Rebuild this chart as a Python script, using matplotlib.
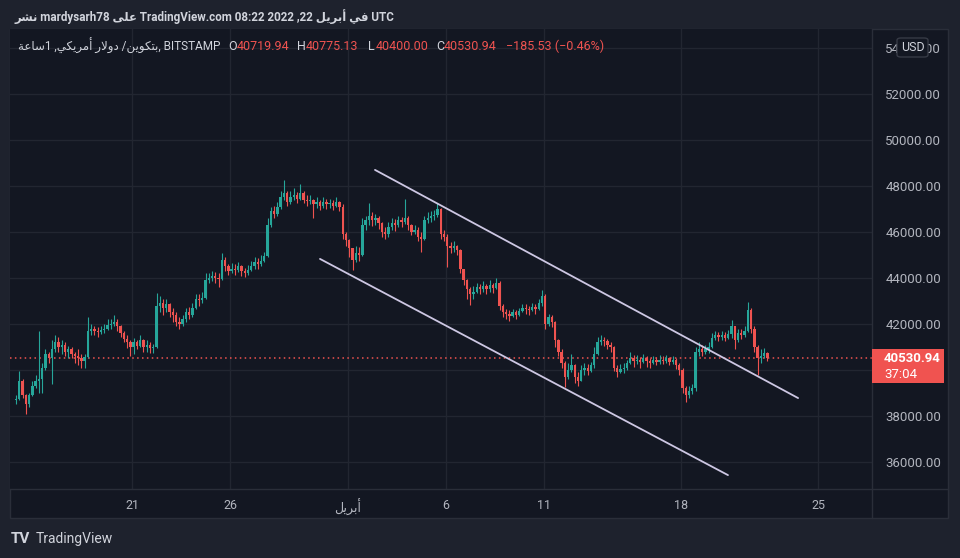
"""
BTC/USD (Bitstamp) candles with a falling channel, TradingView dark style.
"""
import numpy as np
import pandas as pd
import matplotlib
matplotlib.use('Agg')
import matplotlib.pyplot as plt
import matplotlib.dates as mdates
from matplotlib.patches import Rectangle, FancyBboxPatch
from matplotlib.lines import Line2D

# Roboto for latin text, DejaVu Sans picks up the arabic glyphs
plt.rcParams['font.family'] = ['Roboto', 'DejaVu Sans']

# arabic words in shaped (presentation) form, visual left-to-right order
NASHR = '\uFEAE\uFEB8\uFEE7'
ALA = '\uFEF0\uFEE0\uFECB'
FI = '\uFEF2\uFED3'
APRIL = '\uFEDE\uFEF3\uFEAE\uFE91\uFE83'
SAA = '\uFE94\uFECB\uFE8E\uFEB3'
AMRIKI = '\uFEF2\uFEDC\uFEF3\uFEAE\uFEE3\uFE83'
DOLAR = '\uFEAD\uFEFB\uFEED\uFEA9'
BITCOIN = '\uFEE6\uFEF3\uFEEE\uFEDC\uFE98\uFE91'

# ---- data: 4h candles from 2022-03-15 00:00 UTC (6 per day) ----
first_open = 38700
closes = [
    38750, 39500, 38900, 38500, 38900, 39300,   # Mar 15
    39500, 39600, 40100, 40700, 40500, 40900,   # Mar 16
    41200, 41000, 41100, 40800, 40900, 40700,   # Mar 17
    40600, 40500, 40400, 40550, 41700, 41800,   # Mar 18
    41700, 41650, 41750, 41800, 41950, 42000,   # Mar 19
    42100, 41900, 41600, 41350, 41200, 41000,   # Mar 20
    41200, 41050, 41300, 41000, 41100, 40950,   # Mar 21
    41000, 42800, 42900, 42700, 42850, 42500,   # Mar 22
    42400, 42100, 42000, 42200, 42500, 42400,   # Mar 23
    42700, 43100, 43050, 43150, 43900, 44000,   # Mar 24
    44100, 44000, 43950, 44800, 44500, 44300,   # Mar 25
    44400, 44350, 44500, 44300, 44200, 44350,   # Mar 26
    44500, 44700, 44600, 44750, 44950, 46300,   # Mar 27
    46900, 46800, 47100, 47500, 47700, 47300,   # Mar 28
    47500, 47600, 47450, 47700, 47400, 47350,   # Mar 29
    47400, 47200, 47300, 47150, 47300, 47200,   # Mar 30
    47250, 47150, 47300, 47100, 45900, 45650,   # Mar 31
    45300, 44800, 45100, 45000, 46300, 46500,   # Apr 1
    46700, 46500, 46600, 46400, 46000, 45900,   # Apr 2
    46200, 46400, 46300, 46500, 46450, 46600,   # Apr 3
    46300, 46000, 46100, 45800, 45700, 46500,   # Apr 4
    46600, 46700, 46750, 47000, 45900, 45800,   # Apr 5
    45400, 45300, 45400, 45200, 44400, 43900,   # Apr 6
    43500, 43300, 43400, 43600, 43500, 43650,   # Apr 7
    43500, 43700, 43550, 43800, 42800, 42500,   # Apr 8
    42450, 42350, 42500, 42400, 42550, 42700,   # Apr 9
    42650, 42600, 42750, 42650, 42900, 43200,   # Apr 10
    42000, 42300, 42100, 41300, 40800, 40300,   # Apr 11
    39700, 40000, 40200, 39700, 39500, 40000,   # Apr 12
    40100, 39950, 40200, 40700, 41200, 41300,   # Apr 13
    41250, 41100, 41000, 40100, 39900, 40050,   # Apr 14
    40100, 40300, 40500, 40400, 40450, 40350,   # Apr 15
    40500, 40400, 40300, 40450, 40350, 40450,   # Apr 16
    40400, 40500, 40350, 40450, 40200, 40000,   # Apr 17
    39200, 38900, 39100, 39200, 40800, 40900,   # Apr 18
    40800, 40900, 41000, 41400, 41500, 41450,   # Apr 19
    41500, 41400, 41550, 41900, 41300, 41600,   # Apr 20
    41500, 41700, 42600, 41800, 41000, 40500,   # Apr 21
    40600, 40719.94, 40530.94,                  # Apr 22
]
highs = [
    38900, 39950, 39600, 38950, 39000, 39500,
    39800, 41700, 40300, 40900, 40800, 41300,
    41500, 41450, 41300, 41200, 41050, 41000,
    40800, 40900, 40700, 40700, 42300, 42000,
    41900, 41850, 41900, 42000, 42200, 42200,
    42400, 42200, 41950, 41700, 41500, 41300,
    41400, 41300, 41500, 41350, 41300, 41200,
    41150, 43350, 43200, 43100, 43100, 42900,
    42700, 42500, 42300, 42400, 42700, 42750,
    42900, 43300, 43300, 43400, 44200, 44200,
    44300, 44250, 44200, 45100, 44900, 44600,
    44650, 44600, 44700, 44550, 44450, 44550,
    44750, 44900, 44850, 45000, 45150, 46600,
    47100, 47150, 47300, 47800, 48250, 47800,
    47800, 47900, 47750, 48100, 47800, 47600,
    47600, 47450, 47500, 47400, 47500, 47450,
    47450, 47400, 47500, 47350, 47200, 46000,
    45700, 45300, 45400, 45350, 46600, 46700,
    47250, 46850, 46800, 46700, 46450, 46200,
    46450, 46600, 46550, 46700, 46650, 47450,
    46700, 46350, 46300, 46200, 46000, 46700,
    46850, 46900, 46950, 47250, 47050, 46100,
    45900, 45550, 45600, 45450, 45250, 44400,
    43950, 43600, 43650, 43800, 43750, 43850,
    43750, 43900, 43800, 44000, 43850, 42850,
    42650, 42600, 42650, 42600, 42700, 42850,
    42850, 42800, 42900, 42850, 43100, 43480,
    43300, 42450, 42400, 42150, 41350, 40900,
    40400, 40300, 40700, 40250, 39900, 40200,
    40300, 40250, 40350, 41000, 41450, 41500,
    41450, 41350, 41200, 41050, 40200, 40250,
    40300, 40450, 40800, 40650, 40650, 40550,
    40700, 40600, 40500, 40600, 40550, 40650,
    40600, 40650, 40550, 40600, 40500, 40300,
    40100, 39300, 39300, 39400, 41000, 41200,
    41100, 41100, 41200, 41600, 41700, 41650,
    41700, 41650, 41750, 42170, 41900, 41800,
    41800, 41900, 42960, 42700, 41900, 41100,
    40900, 40950, 40775.13,
]
lows = [
    38500, 38700, 38800, 38100, 38400, 38850,
    39200, 39000, 39000, 40000, 40300, 39400,
    40800, 40800, 40700, 40600, 40500, 40500,
    40300, 40200, 40100, 40100, 40500, 41500,
    41500, 41450, 41550, 41600, 41750, 41800,
    41900, 41700, 41450, 41200, 40950, 40600,
    40700, 40900, 41000, 40800, 40800, 40750,
    40750, 40950, 42500, 42400, 42500, 42300,
    42100, 41900, 41800, 41900, 42100, 42200,
    42300, 42650, 42800, 42900, 43100, 43800,
    43850, 43800, 43600, 43900, 44300, 44150,
    44200, 44150, 44250, 44100, 44050, 44150,
    44300, 44400, 44400, 44500, 44700, 44900,
    46200, 46600, 46700, 47000, 47400, 47150,
    47200, 47400, 47250, 47400, 47250, 47150,
    47200, 46600, 47050, 46950, 47050, 47000,
    47050, 46950, 47100, 46900, 45700, 45400,
    44900, 44350, 44700, 44750, 44950, 46100,
    46300, 46250, 46300, 46150, 45800, 45700,
    45800, 46100, 46050, 46200, 46200, 46350,
    46100, 45850, 45900, 45600, 45150, 45650,
    46400, 46450, 46500, 46650, 45700, 45600,
    44480, 45100, 45150, 45000, 44200, 43700,
    43100, 42830, 43100, 43350, 43300, 43400,
    43300, 43400, 43350, 43500, 42600, 42300,
    42200, 42150, 42300, 42200, 42350, 42500,
    42450, 42400, 42550, 42450, 42600, 42800,
    41800, 41900, 41850, 41000, 40600, 40100,
    39260, 39600, 39900, 39450, 39300, 39500,
    39800, 39800, 39900, 40100, 40650, 41100,
    41050, 40900, 40800, 39950, 39700, 39850,
    39850, 40000, 40250, 40150, 40250, 40100,
    40300, 40150, 40100, 40250, 40200, 40250,
    40250, 40300, 40200, 40250, 40050, 39800,
    39000, 38600, 38800, 38950, 39100, 40600,
    40600, 40700, 40750, 40950, 41300, 41250,
    41300, 41250, 41350, 41400, 40900, 41200,
    41350, 41450, 41650, 41600, 40800, 39780,
    40300, 40500, 40400.00,
]
start_time = '2022-03-15 00:00'

# channel drawn on the chart: (time, price) endpoints
upper_line = [('2022-04-02 09:30', 48700), ('2022-04-23 23:30', 38780)]
lower_line = [('2022-03-30 14:10', 44830), ('2022-04-20 09:40', 35430)]

last_price = 40530.94
countdown = '37:04'
price_ticks = [36000, 38000, 40000, 42000, 44000, 46000, 48000, 50000, 52000, 54000]
time_ticks = ['2022-03-21', '2022-03-26', '2022-04-01', '2022-04-06',
              '2022-04-11', '2022-04-18', '2022-04-25']
time_labels = ['21', '26', APRIL, '6', '11', '18', '25']

# ---- colours ----
UP = '#26a69a'
DOWN = '#ef5350'
BG_OUT = '#1e222d'
BG = '#131722'
GRID = '#222631'
BORDER = '#2a2e39'
TXT = '#d1d4dc'
TICK = '#b2b5be'

W, H = 960, 558


def fx(px):
    return px / W


def fy(py):
    return 1 - py / H


fig = plt.figure(figsize=(9.6, 5.58), dpi=100, facecolor=BG_OUT)

# chart pane (behind the axes)
fig.patches.append(Rectangle((fx(10), fy(518)), (948 - 10) / W, (518 - 29) / H,
                             transform=fig.transFigure, facecolor=BG,
                             edgecolor=BORDER, lw=1, zorder=-5))

ax = fig.add_axes([fx(10), fy(489), (872 - 10) / W, (489 - 29) / H])
ax.set_facecolor(BG)

closes = np.array(closes, dtype=float)
highs = np.array(highs, dtype=float)
lows = np.array(lows, dtype=float)
opens = np.concatenate([[first_open], closes[:-1]])
times = pd.date_range(start_time, periods=len(closes), freq='4h')
t = mdates.date2num(times.to_pydatetime()) + 2.0 / 24

up = closes >= opens
cols = np.where(up, UP, DOWN)
ax.vlines(t, lows, highs, colors=cols, lw=0.8, zorder=3)
body = np.maximum(np.abs(closes - opens), 25)
ax.bar(t, body, bottom=np.minimum(opens, closes), width=0.12,
       color=cols, linewidth=0, zorder=4)

# channel
for line in (upper_line, lower_line):
    xs = mdates.date2num([pd.Timestamp(p[0]).to_pydatetime() for p in line])
    ys = [p[1] for p in line]
    ax.plot(xs, ys, color='#cdc7e3', lw=1.3, solid_capstyle='round', zorder=5)

# last price dotted line
ax.axhline(last_price, color=DOWN, ls=(0, (1, 2.2)), lw=1.1, zorder=2)

t0 = mdates.date2num(pd.Timestamp(start_time).to_pydatetime())
ax.set_xlim(t0 - 0.224, t0 + 43.75)
ax.set_ylim(34826, 54826)

ax.set_xticks(mdates.date2num([pd.Timestamp(d).to_pydatetime() for d in time_ticks]))
ax.set_xticklabels(time_labels)
ax.set_yticks(price_ticks)
# the 40000 label sits under the last price badge in the reference
ax.set_yticklabels(['' if v == 40000 else '%.2f' % v for v in price_ticks])
ax.yaxis.tick_right()
ax.tick_params(axis='y', length=0, pad=9.5, colors=TICK, labelsize=9.5)
ax.tick_params(axis='x', length=0, pad=7, colors=TICK, labelsize=9)
ax.grid(True, color=GRID, lw=1)
ax.set_axisbelow(True)
for s in ax.spines.values():
    s.set_visible(False)

# pane dividers
fig.add_artist(Line2D([fx(872), fx(872)], [fy(29), fy(518)], color=BORDER, lw=1))
fig.add_artist(Line2D([fx(10), fx(948)], [fy(489), fy(489)], color=BORDER, lw=1))

# USD badge over the top price label
fig.patches.append(FancyBboxPatch((fx(897), fy(57)), 31 / W, 19 / H,
                                  boxstyle='round,pad=0,rounding_size=0.004',
                                  transform=fig.transFigure, facecolor=BG,
                                  edgecolor='#363a45', lw=1, zorder=6))
fig.text(fx(912.5), fy(47.5), 'USD', color=TXT, fontsize=9, ha='center',
         va='center', zorder=7)

# last price label
fig.patches.append(Rectangle((fx(872), fy(383)), 72 / W, 34 / H,
                             transform=fig.transFigure, facecolor='#f05350',
                             edgecolor='none', zorder=6))
fig.text(fx(884), fy(358), '%.2f' % last_price, color='white', fontsize=9.5,
         fontweight='bold', ha='left', va='center', zorder=7)
fig.text(fx(884), fy(374), countdown, color='white', fontsize=9.5,
         ha='left', va='center', zorder=7)

# header line
header = (NASHR + ' mardysarh78 ' + ALA + ' TradingView.com 08:22 2022 ,22 '
          + APRIL + ' ' + FI + ' UTC')
fig.text(fx(15), fy(17), header, color=TXT, fontsize=8.4, fontweight='bold',
         ha='left', va='center')

# legend line
symbol = SAA + '1 ,' + AMRIKI + ' ' + DOLAR + ' /' + BITCOIN + ', BITSTAMP'
fig.text(fx(18), fy(46), symbol, color=TXT, fontsize=8.5, ha='left', va='center')
ohlc = [('O', 228, '40719.94', 237), ('H', 297, '40775.13', 306),
        ('L', 368, '40400.00', 376), ('C', 436, '40530.94', 444)]
for key, kx, val, vx in ohlc:
    fig.text(fx(kx), fy(46), key, color=TXT, fontsize=9, ha='left', va='center')
    fig.text(fx(vx), fy(46), val, color=DOWN, fontsize=9, ha='left', va='center')
fig.text(fx(506), fy(46), '\u2212185.53 (\u22120.46%)', color=DOWN, fontsize=9,
         ha='left', va='center')

# footer logo
fig.text(fx(11), fy(539), 'TV', color=TXT, fontsize=11, fontweight='bold',
         ha='left', va='center')
fig.text(fx(36), fy(539), 'TradingView', color=TXT, fontsize=10,
         ha='left', va='center')

fig.savefig('out.png', dpi=100, facecolor=BG_OUT)
